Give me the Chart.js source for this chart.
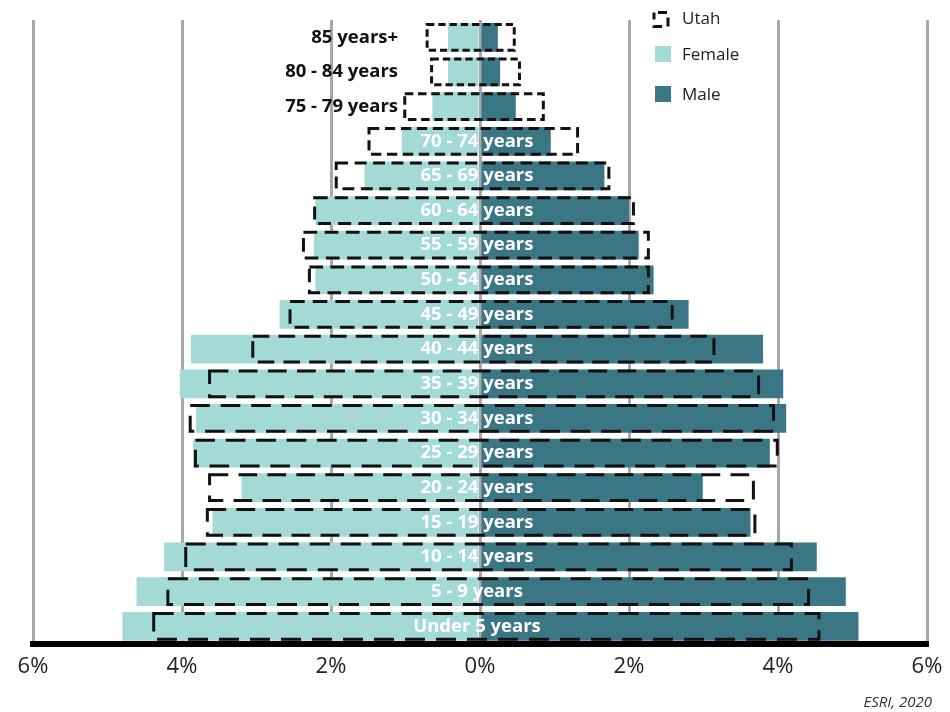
<!DOCTYPE html>
<html>
<head>
<meta charset="utf-8">
<script src="https://cdn.jsdelivr.net/npm/chart.js@4"></script>
<style>
  body { margin: 0; background: #fff; }
  #wrap { width: 950px; height: 712px; position: relative; }
</style>
</head>
<body>
<div id="wrap"><canvas id="chart" width="950" height="712"></canvas></div>
<script>
// age groups, top of the pyramid first
const ageGroups = ['85 years+', '80 - 84 years', '75 - 79 years', '70 - 74 years', '65 - 69 years',
    '60 - 64 years', '55 - 59 years', '50 - 54 years', '45 - 49 years', '40 - 44 years',
    '35 - 39 years', '30 - 34 years', '25 - 29 years', '20 - 24 years', '15 - 19 years',
    '10 - 14 years', '5 - 9 years', 'Under 5 years'];

// percent of population
const female = [0.43, 0.43, 0.64, 1.05, 1.55, 2.21, 2.23, 2.21, 2.69, 3.88, 4.03, 3.81, 3.85, 3.20, 3.59, 4.24, 4.61, 4.80];
const male = [0.24, 0.27, 0.48, 0.95, 1.67, 2.00, 2.13, 2.33, 2.80, 3.80, 4.07, 4.11, 3.89, 2.99, 3.63, 4.52, 4.91, 5.08];
const utahFemale = [0.73, 0.67, 1.03, 1.51, 1.95, 2.24, 2.39, 2.31, 2.57, 3.07, 3.65, 3.91, 3.84, 3.65, 3.68, 3.97, 4.21, 4.40];
const utahMale = [0.48, 0.55, 0.87, 1.33, 1.75, 2.08, 2.28, 2.28, 2.60, 3.16, 3.76, 3.96, 4.01, 3.69, 3.71, 4.20, 4.43, 4.57];

const xTicks = [-6, -4, -2, 0, 2, 4, 6];
const sourceText = 'ESRI, 2020';

const female_color = '#a4dad6';
const male_color = '#3b7685';
const font_family = '"Open Sans", "DejaVu Sans", sans-serif';

// dashed outlines for Utah, age labels, legend and source
const overlay = {
    id: 'overlay',
    afterDraw: (chart) => {
        const {ctx, scales} = chart;
        const x = scales.x;

        // Utah boxes
        const utahMeta = chart.getDatasetMeta(2);
        ctx.save();
        ctx.strokeStyle = '#111';
        ctx.lineWidth = 3;
        utahMeta.data.forEach(bar => {
            const p = bar.getProps(['x', 'base', 'y', 'height'], true);
            const left = Math.min(p.x, p.base);
            const right = Math.max(p.x, p.base);
            const w = right - left;
            const dash = Math.max(7, Math.min(20, 5 + w * 0.025));
            ctx.setLineDash([dash, dash * 0.55]);
            ctx.strokeRect(left + 1.5, p.y - p.height / 2 + 1.5, w - 3, p.height - 3);
        });
        ctx.restore();

        // age labels
        const maleMeta = chart.getDatasetMeta(1);
        ctx.save();
        ctx.font = 'bold 18.5px ' + font_family;
        ctx.textBaseline = 'middle';
        maleMeta.data.forEach((bar, i) => {
            const y = bar.y;
            if (i < 3) {
                ctx.fillStyle = '#111';
                ctx.textAlign = 'right';
                ctx.fillText(ageGroups[i], x.getPixelForValue(-1.1), y);
            } else {
                ctx.fillStyle = '#fff';
                ctx.textAlign = 'center';
                ctx.fillText(ageGroups[i], x.getPixelForValue(0) - 3, y);
            }
        });
        ctx.restore();

        // legend
        ctx.save();
        ctx.strokeStyle = '#111';
        ctx.lineWidth = 3;
        ctx.setLineDash([9, 6]);
        ctx.lineDashOffset = -4;
        ctx.strokeRect(654, 12.5, 14, 14);
        ctx.setLineDash([]);
        ctx.fillStyle = female_color;
        ctx.fillRect(655, 46, 16, 16);
        ctx.fillStyle = male_color;
        ctx.fillRect(655, 86, 16, 16);
        ctx.fillStyle = '#222';
        ctx.font = '17px ' + font_family;
        ctx.textBaseline = 'middle';
        ctx.textAlign = 'left';
        ctx.fillText('Utah', 682, 19);
        ctx.fillText('Female', 682, 55);
        ctx.fillText('Male', 682, 95);

        // source
        ctx.font = 'italic 15px ' + font_family;
        ctx.textAlign = 'right';
        ctx.fillStyle = '#333';
        ctx.fillText(sourceText, 932, 703);
        ctx.restore();
    }
};

let chart = new Chart(document.getElementById('chart'), {
    type: 'bar',
    data: {
        labels: ageGroups,
        datasets: [{
            label: 'Female',
            data: female.map(v => -v),
            backgroundColor: female_color
        }, {
            label: 'Male',
            data: male,
            backgroundColor: male_color
        }, {
            label: 'Utah',
            data: utahFemale.map((v, i) => [-v, utahMale[i]]),
            backgroundColor: 'rgba(0,0,0,0)',
            borderWidth: 0
        }]
    },
    options: {
        indexAxis: 'y',
        responsive: false,
        animation: false,
        layout: {
            padding: {top: 20, left: 33, right: 23, bottom: 22}
        },
        datasets: {
            bar: {
                grouped: false,
                barPercentage: 0.83,
                categoryPercentage: 1
            }
        },
        scales: {
            x: {
                min: -6,
                max: 6,
                z: 1,
                afterBuildTicks: (scale) => {
                    scale.ticks = xTicks.map(v => ({value: v}));
                },
                afterFit: (scale) => {
                    // let the end labels hang into the page margin
                    scale.paddingLeft = 0;
                    scale.paddingRight = 0;
                },
                ticks: {
                    callback: v => Math.abs(v) + '%',
                    color: '#222',
                    padding: 10,
                    font: {family: font_family, size: 22}
                },
                grid: {
                    color: '#a8a8a8',
                    lineWidth: 3,
                    drawTicks: false
                },
                border: {
                    display: true,
                    color: '#000',
                    width: 6
                }
            },
            y: {
                display: false
            }
        },
        plugins: {
            legend: {display: false},
            tooltip: {enabled: false}
        }
    },
    plugins: [overlay]
});
</script>
</body>
</html>
